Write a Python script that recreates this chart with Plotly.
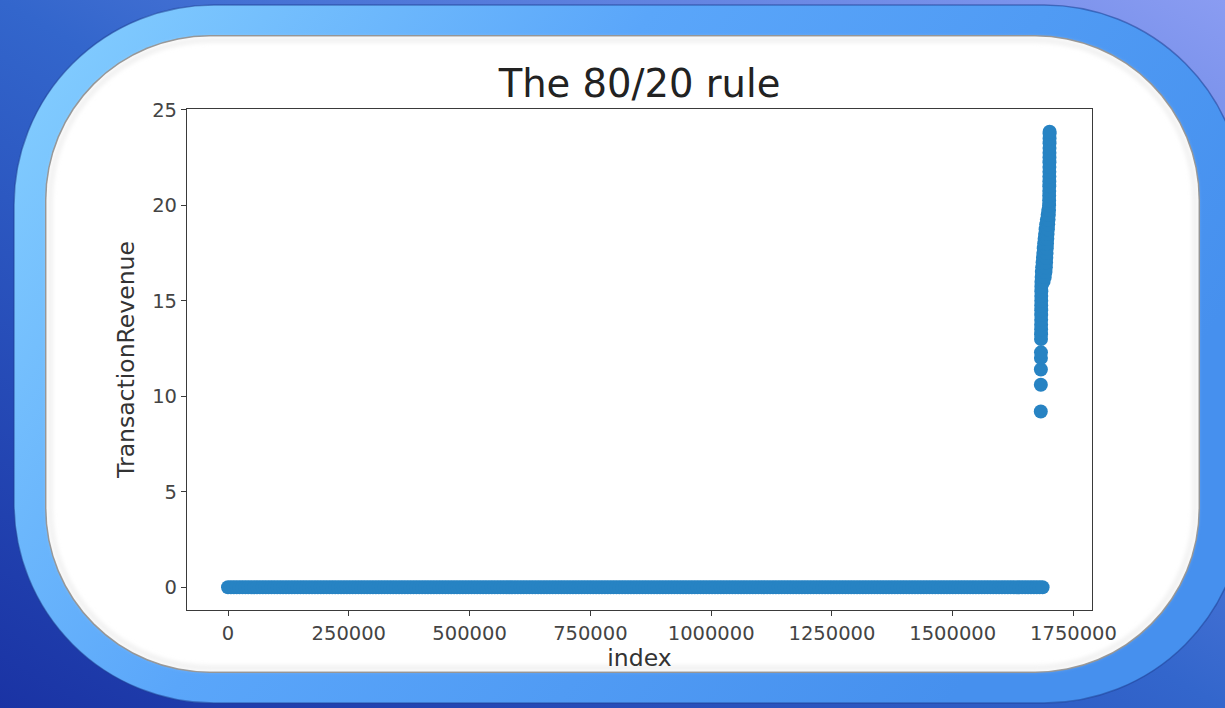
import base64
import plotly.graph_objects as go

# ---------------- data ----------------
# sessions with zero revenue: index positions along the x axis (dense band)
zero_index = list(range(0, 1686001, 6000))
zero_revenue = [0.0] * len(zero_index)

# sessions with non-zero (log) transaction revenue
nz_index = [
    1682300, 1682400, 1682500, 1682600, 1682700,
    1682800, 1682900, 1683000, 1683000, 1683100, 1683100, 1683200, 1683200,
    1683300, 1683300, 1683400, 1683500,
    1683600, 1688000, 1684000, 1690500, 1684500, 1692000, 1685200, 1692800,
    1686000, 1693300, 1686800, 1693700, 1687600, 1694200, 1688400, 1694700,
    1689300, 1695200, 1690200, 1695800, 1691200, 1696400, 1692300, 1697000,
    1693500, 1697700, 1695000, 1698400, 1696500, 1699000, 1697800, 1699400,
    1699500, 1699600, 1699700, 1699800, 1699900, 1700000, 1700050, 1700100,
    1700150, 1700200, 1700250, 1700300, 1700350, 1700400, 1700450, 1700500,
    1700550,
]
nz_revenue = [
    9.2, 10.6, 11.4, 12.0, 12.3,
    13.0, 13.25, 13.5, 13.75, 14.0, 14.25, 14.5, 14.75,
    15.0, 15.25, 15.5, 15.75,
    16.0, 16.0, 16.25, 16.25, 16.5, 16.5, 16.75, 16.75,
    17.0, 17.0, 17.25, 17.25, 17.5, 17.5, 17.75, 17.75,
    18.0, 18.0, 18.25, 18.25, 18.5, 18.5, 18.75, 18.75,
    19.0, 19.0, 19.25, 19.25, 19.5, 19.5, 19.75, 19.75,
    20.0, 20.25, 20.5, 20.75, 21.0, 21.25, 21.5, 21.75,
    22.0, 22.25, 22.5, 22.75, 23.0, 23.25, 23.5, 23.75,
    23.85,
]

x_tickvals = [0, 250000, 500000, 750000, 1000000, 1250000, 1500000, 1750000]
x_ticktext = ["0", "250000", "500000", "750000", "1000000", "1250000", "1500000", "1750000"]
y_tickvals = [0, 5, 10, 15, 20, 25]
y_ticktext = ["0", "5", "10", "15", "20", "25"]

title_text = "The 80/20 rule"
x_title = "index"
y_title = "TransactionRevenue"

# ---------------- layout geometry ----------------
W, H = 1225, 708
ML, MR, MT, MB = 187, 133, 109, 98
PW, PH = W - ML - MR, H - MT - MB

MARKER_COLOR = "#2783c3"
FONT = "DejaVu Sans"

# decorative frame (background picture)
svg = f'''<svg xmlns="http://www.w3.org/2000/svg" width="{W}" height="{H}" viewBox="0 0 {W} {H}">
<defs>
<linearGradient id="bg" x1="0" y1="1" x2="1" y2="0">
<stop offset="0" stop-color="#1a33a4"/>
<stop offset="0.5" stop-color="#3366cc"/>
<stop offset="1" stop-color="#8a9cf2"/>
</linearGradient>
<linearGradient id="bd" x1="0" y1="0" x2="1" y2="0.4">
<stop offset="0" stop-color="#86d0ff"/>
<stop offset="0.45" stop-color="#5aa6fa"/>
<stop offset="1" stop-color="#4690ee"/>
</linearGradient>
<filter id="blur" x="-5%" y="-5%" width="110%" height="110%"><feGaussianBlur stdDeviation="2.5"/></filter>
</defs>
<rect width="{W}" height="{H}" fill="url(#bg)"/>
<rect x="14" y="5" width="1230" height="698" rx="200" ry="200" fill="url(#bd)" stroke="#1f3f94" stroke-opacity="0.55" stroke-width="1.5"/>
<rect x="45" y="35" width="1155" height="638" rx="165" ry="165" fill="#8c8c8c"/>
<rect x="46.5" y="36.5" width="1152" height="635" rx="163.5" ry="163.5" fill="#ffffff"/>
<rect x="50" y="40" width="1145" height="628" rx="160" ry="160" fill="none" stroke="#e6e6e6" stroke-width="3" filter="url(#blur)"/>
</svg>'''
svg_uri = "data:image/svg+xml;base64," + base64.b64encode(svg.encode("utf-8")).decode("ascii")

fig = go.Figure()
fig.add_trace(go.Scatter(
    x=zero_index, y=zero_revenue, mode="markers",
    marker=dict(size=14, color=MARKER_COLOR, line=dict(width=0)),
    showlegend=False, hoverinfo="x+y",
))
fig.add_trace(go.Scatter(
    x=nz_index, y=nz_revenue, mode="markers",
    marker=dict(size=14, color=MARKER_COLOR, line=dict(width=0)),
    showlegend=False, hoverinfo="x+y",
))

axis_common = dict(
    showgrid=False, zeroline=False, showline=True, mirror=True,
    linecolor="#3a3a3a", linewidth=1.2, ticks="outside", ticklen=5,
    tickwidth=1.2, tickcolor="#3a3a3a",
    tickfont=dict(family=FONT, size=19.5, color="#444444"),
)

fig.update_layout(
    width=W, height=H,
    margin=dict(l=ML, r=MR, t=MT, b=MB, pad=0),
    paper_bgcolor="#3366cc",
    plot_bgcolor="rgba(0,0,0,0)",
    font=dict(family=FONT),
    title=dict(
        text=title_text, x=(ML + PW / 2) / W, xanchor="center",
        y=1 - 84 / H, yanchor="middle", yref="container",
        font=dict(family=FONT, size=38.5, color="#222222"),
    ),
    xaxis=dict(
        range=[-84900, 1788300], tickvals=x_tickvals, ticktext=x_ticktext,
        title=dict(text=x_title, standoff=2, font=dict(family=FONT, size=23.5, color="#333333")),
        **axis_common,
    ),
    yaxis=dict(
        range=[-1.19, 25.04], tickvals=y_tickvals, ticktext=y_ticktext,
        title=dict(text=y_title, standoff=10, font=dict(family=FONT, size=23.5, color="#333333")),
        **axis_common,
    ),
    images=[dict(
        source=svg_uri, xref="paper", yref="paper",
        x=-ML / PW, y=1 + MT / PH, sizex=W / PW, sizey=H / PH,
        xanchor="left", yanchor="top", sizing="stretch", layer="below",
    )],
)

fig.write_html(
    "out.html",
    config={"displayModeBar": False},
    post_script="document.body.style.margin='0';document.body.style.overflow='hidden';",
)
